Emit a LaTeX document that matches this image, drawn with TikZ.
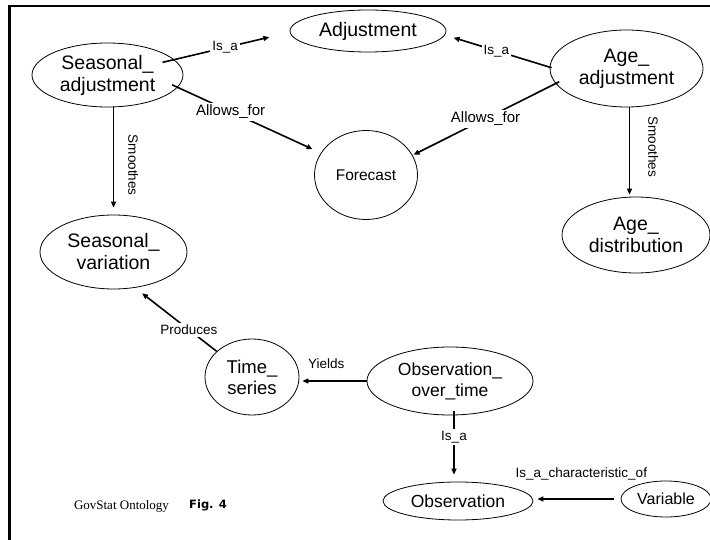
\documentclass[tikz,border=0pt]{standalone}
\usepackage{fontspec}
\setmainfont{Liberation Sans}
\newfontfamily\govserif{Liberation Serif}
\newfontfamily\figsans{DejaVu Sans}
\usetikzlibrary{shapes.geometric,arrows.meta}
\tikzstyle{concept}=[ellipse,draw,line width=0.8pt,inner sep=0pt,align=center,font=\fontsize{19.5}{22}\selectfont]
\tikzstyle{rel}=[-{Triangle[length=6pt,width=5pt]},line width=1.6pt]
\tikzstyle{lbl}=[font=\fontsize{13.5}{15}\selectfont,fill=white,inner sep=2pt]
\tikzstyle{tag}=[font=\fontsize{13.5}{15}\selectfont,inner sep=2pt]
\tikzstyle{vtag}=[tag,rotate=-90,anchor=south,inner xsep=0pt,inner ysep=14pt]

\begin{document}
\begin{tikzpicture}[x=1pt,y=-1pt]
\useasboundingbox (0,0) rectangle (710,540);
\draw[line width=2.6pt] (9.7,550) -- (9.7,6.2) -- (720,6.2);
\node (SA) [concept, minimum width=151pt, minimum height=64pt] at (107.5,75) {Seasonal\_\\adjustment};
\node (AJ) [concept, minimum width=156pt, minimum height=42pt] at (368,31) {Adjustment};
\node (AA) [concept, minimum width=153pt, minimum height=77pt] at (626.5,68.5) {Age\_\\adjustment};
\node (FC) [concept, minimum width=103pt, minimum height=89pt, font=\fontsize{15.5}{18}\selectfont] at (366,175) {Forecast};
\node (AD) [concept, minimum width=148pt, minimum height=76pt] at (636,235) {Age\_\\distribution};
\node (SV) [concept, minimum width=147pt, minimum height=74pt] at (113.5,252) {Seasonal\_\\variation};
\node (TS) [concept, minimum width=94pt, minimum height=76pt, font=\fontsize{18.5}{21}\selectfont] at (252,377) {Time\_\\series};
\node (OT) [concept, minimum width=166pt, minimum height=68pt, font=\fontsize{17.5}{21}\selectfont] at (450,381) {Observation\_\\over\_time};
\node (OB) [concept, minimum width=150pt, minimum height=38pt, font=\fontsize{17.5}{21}\selectfont] at (458,501) {Observation};
\node (VA) [concept, minimum width=90pt, minimum height=36pt, font=\fontsize{16}{19}\selectfont] at (666,499) {Variable};
\node (GS) [anchor=base, inner sep=0pt, font=\govserif\fontsize{13}{15}\selectfont] at (121.5,509) {GovStat Ontology};
\node (FG) [anchor=base west, inner sep=0pt, font=\figsans\bfseries\fontsize{11.5}{13}\selectfont] at (189,508) {Fig. 4};
\draw[rel, shorten <=-12pt, shorten >=21pt] (SA.13) -- node[lbl, pos=0.44] {Is\_a} (AJ.181);
\draw[rel, shorten <=-2pt, shorten >=9pt] (AA.179) -- node[lbl, pos=0.51] {Is\_a} (AJ.357);
\draw[rel, shorten <=-6pt, shorten >=9pt] (SA.350) -- node[lbl, pos=0.37, font=\fontsize{15}{17}\selectfont] {Allows\_for} (FC.154);
\draw[rel, shorten <=-4pt, shorten >=1pt] (AA.192) -- node[lbl, pos=0.49, font=\fontsize{15}{17}\selectfont] {Allows\_for} (FC.23);
\draw[rel, shorten >=7pt] (SV.north |- SA.south) -- node[vtag, pos=0.54] {Smoothes} (SV.north);
\draw[rel, shorten >=2pt] ([xshift=3pt]AA.south) -- node[vtag, pos=0.44, inner ysep=18pt] {Smoothes} ([xshift=3pt]AA.south |- AD.north);
\draw[rel, shorten >=9pt] (TS.144) -- node[lbl, pos=0.34] {Produces} (SV.301);
\draw[rel, shorten >=3pt] (OT.west) -- node[tag, above=10pt, pos=0.6] {Yields} (OT.west -| TS.east);
\draw[rel, shorten <=-4pt, shorten >=7pt] ([xshift=4pt]OT.south) -- node[lbl, pos=0.33] {Is\_a} ([xshift=4pt]OT.south |- OB.north);
\draw[rel, shorten <=7pt, shorten >=4pt] (VA.west) -- node[tag, above=16pt, pos=0.45] {Is\_a\_characteristic\_of} (VA.west -| OB.east);
\end{tikzpicture}
\end{document}
